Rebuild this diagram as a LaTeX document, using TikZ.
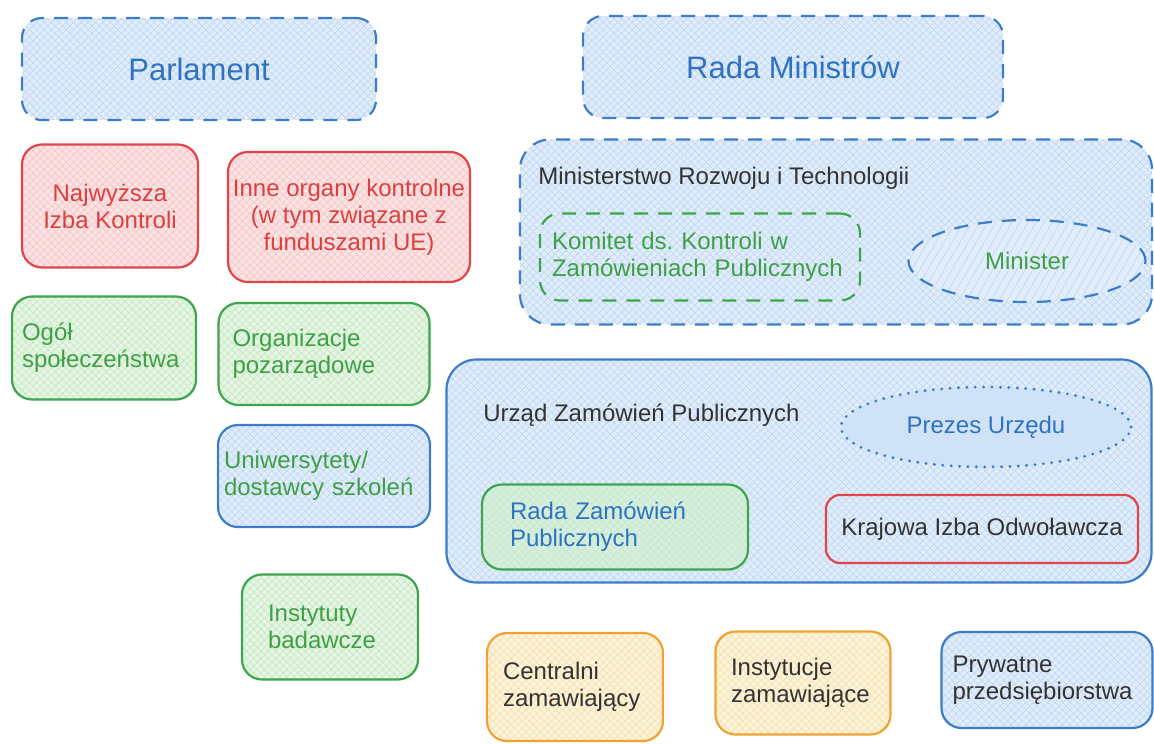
\documentclass[tikz,border=0pt]{standalone}
\usepackage{fontspec}
\setmainfont{Liberation Sans}
\usepackage{tikz}
\usetikzlibrary{shapes.geometric,patterns.meta}
\definecolor{bline}{HTML}{3D7CC9}
\definecolor{bfill}{HTML}{E1EDFA}
\definecolor{bhatch}{HTML}{C3DAF3}
\definecolor{btext}{HTML}{2F72C2}
\definecolor{rline}{HTML}{E0454A}
\definecolor{rfill}{HTML}{FCE4E4}
\definecolor{rhatch}{HTML}{F5C9CA}
\definecolor{rtext}{HTML}{D9403F}
\definecolor{gline}{HTML}{3DA64C}
\definecolor{gfill}{HTML}{E6F5E4}
\definecolor{ghatch}{HTML}{C9E9C6}
\definecolor{gtext}{HTML}{3F9F47}
\definecolor{oline}{HTML}{F0A332}
\definecolor{ofill}{HTML}{FDF4DC}
\definecolor{ohatch}{HTML}{F7E2B0}
\definecolor{tfill}{HTML}{D6EFE2}
\definecolor{pfill}{HTML}{CFE2F6}
\definecolor{darktext}{HTML}{333333}
\tikzset{
  orgbase/.style={rounded corners=10pt, line width=1.1pt, inner sep=0pt,
    font=\fontsize{12}{13.5}\selectfont},
  hatch/.style 2 args={preaction={fill=#1},
    preaction={pattern={Lines[angle=45,distance=2.6pt,line width=.4pt]}, pattern color=#2},
    preaction={pattern={Lines[angle=-45,distance=2.6pt,line width=.4pt]}, pattern color=#2}},
  blueorg/.style={orgbase, draw=bline, hatch={bfill}{bhatch}},
  redorg/.style={orgbase, draw=rline, hatch={rfill}{rhatch}, text=rtext, align=center},
  greenorg/.style={orgbase, draw=gline, hatch={gfill}{ghatch}, text=gtext, align=left},
  orangeorg/.style={orgbase, draw=oline, hatch={ofill}{ohatch}, text=darktext, align=left},
  dashline/.style={dash pattern=on 7pt off 5pt},
  label/.style={anchor=west, inner sep=0pt, text=darktext, font=\fontsize{12}{13.5}\selectfont},
}
\begin{document}
\begin{tikzpicture}[x=0.5pt,y=-0.5pt]
\useasboundingbox (0,0) rectangle (1154,743);

\node[blueorg, dashline, minimum width=177pt, minimum height=51pt, text=btext,
  font=\fontsize{15.5}{17}\selectfont] (parlament) at (199,69) {Parlament};
\node[blueorg, dashline, minimum width=210pt, minimum height=51pt, text=btext,
  font=\fontsize{15.5}{17}\selectfont] (radamin) at (793,67) {Rada Ministrów};

\node[redorg, minimum width=88pt, minimum height=61.5pt] (nik) at (110,206)
  {Najwyższa\\Izba Kontroli};
\node[redorg, minimum width=121pt, minimum height=65pt] (inne) at (349,217)
  {Inne organy kontrolne\\(w tym związane z\\funduszami UE)};

\node[blueorg, dashline, rounded corners=15pt, minimum width=316pt, minimum height=92.5pt]
  (mrit) at (836,232) {};
\node[label] (mritname) at (538,178) {Ministerstwo Rozwoju i Technologii};
\node[orgbase, draw=gline, dashline, text=gtext, align=left, text width=148pt, inner xsep=6pt,
  minimum height=43.5pt] (komitet) at (700,257)
  {Komitet ds.\ Kontroli w\\Zamówieniach Publicznych};
\node[ellipse, draw=bline, line width=1.1pt, dashline, inner sep=0pt, minimum width=118.5pt,
  minimum height=41pt, text=gtext, font=\fontsize{12}{13.5}\selectfont,
  preaction={fill=bfill},
  preaction={pattern={Lines[angle=60,distance=3.5pt,line width=.4pt]}, pattern color=bhatch}]
  (minister) at (1027,261) {Minister};

\node[greenorg, text width=82pt, inner xsep=5pt, minimum height=51.5pt] (ogol) at (104,348)
  {Ogół\\społeczeństwa};
\node[greenorg, text width=91.5pt, inner xsep=7pt, minimum height=51pt] (ngo) at (324,354)
  {Organizacje\\pozarządowe};
\node[blueorg, text=gtext, align=left, text width=100pt, inner xsep=3pt, minimum height=51pt]
  (uczelnie) at (324,476) {Uniwersytety/\\dostawcy szkoleń};
\node[greenorg, text width=62pt, inner xsep=13pt, minimum height=52.5pt] (instytuty) at (330,627)
  {Instytuty\\badawcze};

\node[blueorg, rounded corners=15pt, minimum width=352.5pt, minimum height=111.5pt]
  (uzp) at (799,471) {};
\node[label] (uzpname) at (483,415) {Urząd Zamówień Publicznych};
\node[ellipse, draw=bline, line width=1.6pt, dash pattern=on 0pt off 4.2pt, line cap=round,
  inner sep=0pt, fill=pfill, minimum width=145pt, minimum height=40pt, text=btext,
  font=\fontsize{12}{13.5}\selectfont] (prezes) at (986,427) {Prezes Urzędu};
\node[orgbase, draw=gline, hatch={tfill}{ghatch}, text=btext, align=left, text width=105pt,
  inner xsep=14pt, minimum height=42.5pt] (rada) at (615,527) {Rada Zamówień\\Publicznych};
\node[orgbase, draw=rline, rounded corners=7pt, text=darktext, minimum width=156pt,
  minimum height=34pt] (kio) at (982,529) {Krajowa Izba Odwoławcza};

\node[orangeorg, text width=72pt, inner xsep=8pt, minimum height=54pt] (centralni) at (575,687)
  {Centralni\\zamawiający};
\node[orangeorg, text width=72pt, inner xsep=7.75pt, minimum height=51.5pt] (zamawiajace)
  at (803,683) {Instytucje\\zamawiające};
\node[blueorg, text=darktext, align=left, text width=94.5pt, inner xsep=5.5pt, minimum height=48pt]
  (prywatne) at (1047,680) {Prywatne\\przedsiębiorstwa};
\end{tikzpicture}
\end{document}
